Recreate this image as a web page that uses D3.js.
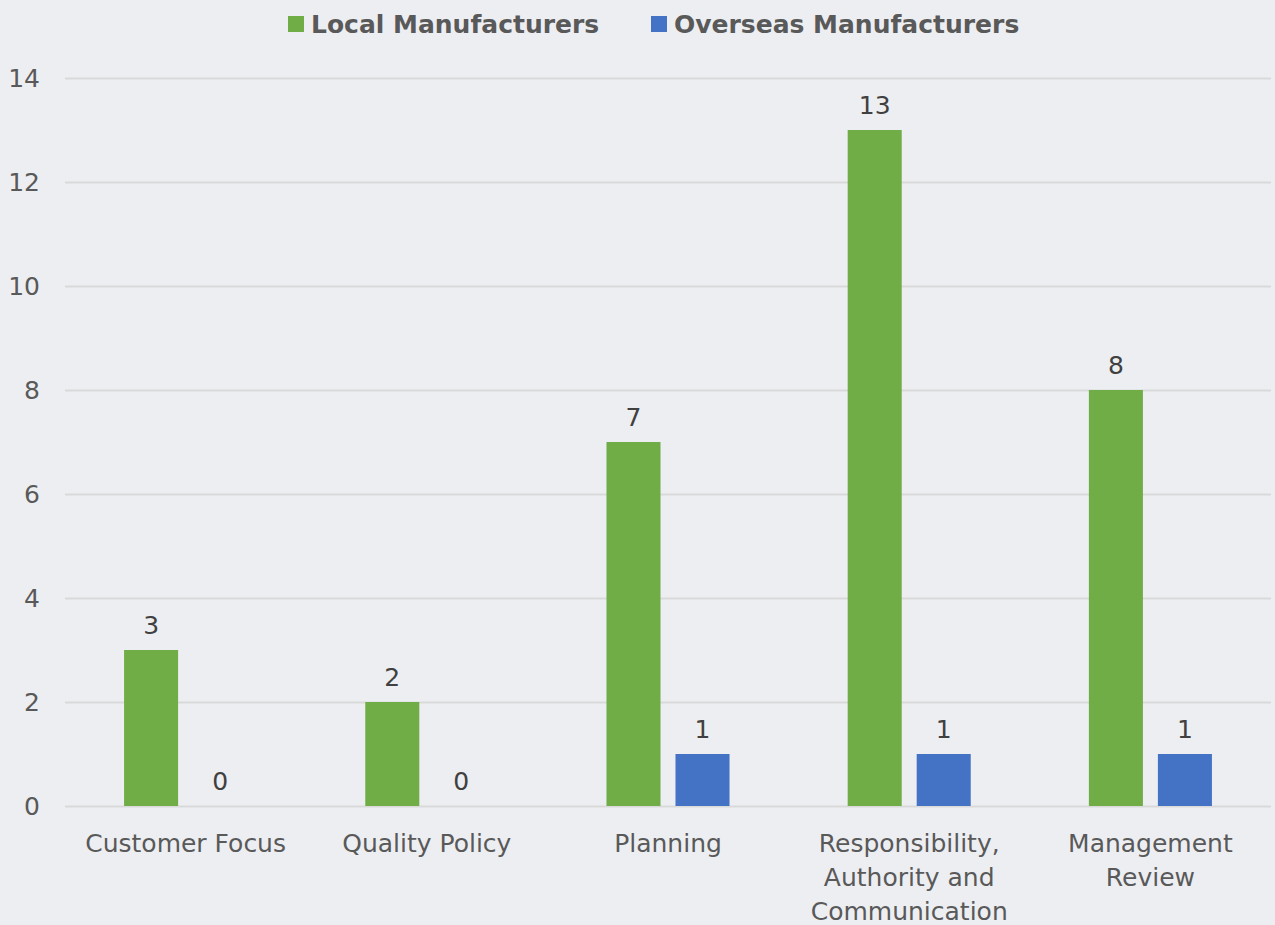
<!DOCTYPE html>
<html>
<head>
<meta charset="utf-8">
<script src="https://cdn.jsdelivr.net/npm/d3@7"></script>
<style>
  html, body { margin: 0; padding: 0; background: #edeef2; }
  svg { display: block; }
  text { font-family: Tahoma, "DejaVu Sans", Verdana, sans-serif; }
</style>
</head>
<body>
<svg id="chart" width="1275" height="925"></svg>
<script>
// Chart data
const categories = ["Customer Focus", "Quality Policy", "Planning",
  "Responsibility, Authority and Communication", "Management Review"];
const seriesNames = ["Local Manufacturers", "Overseas Manufacturers"];
const localValues = [3, 2, 7, 13, 8];
const overseasValues = [0, 0, 1, 1, 1];
const yTicks = [0, 2, 4, 6, 8, 10, 12, 14];

const colors = { "Local Manufacturers": "#70ad47", "Overseas Manufacturers": "#4472c4" };
const seriesValues = { "Local Manufacturers": localValues, "Overseas Manufacturers": overseasValues };

const W = 1275, H = 925;
const margin = { top: 78, right: 4, bottom: 119, left: 65 };
const svg = d3.select("#chart");
svg.append("rect").attr("width", W).attr("height", H).attr("fill", "#edeef2");

const x0 = d3.scaleBand().domain(categories)
  .range([margin.left, W - margin.right]).paddingInner(0).paddingOuter(0);
const x1 = d3.scaleBand().domain(seriesNames)
  .range([0, x0.bandwidth()]).paddingInner(0.217).paddingOuter(0.856);
const y = d3.scaleLinear().domain([0, 14]).range([H - margin.bottom, margin.top]);

// Gridlines
svg.append("g").selectAll("line").data(yTicks).join("line")
  .attr("x1", margin.left).attr("x2", W - margin.right)
  .attr("y1", d => Math.round(y(d)) + 0.5).attr("y2", d => Math.round(y(d)) + 0.5)
  .attr("stroke", "#d9d9d9").attr("stroke-width", 2);

// Y axis labels
const yAxis = d3.axisLeft(y).tickValues(yTicks).tickSize(0).tickPadding(0);
const gy = svg.append("g").attr("transform", "translate(40,0)").call(yAxis);
gy.select(".domain").remove();
gy.selectAll("text").attr("fill", "#595959").style("font-size", "25px")
  .style("font-family", 'Tahoma, "DejaVu Sans", Verdana, sans-serif');

// Bars
const groups = svg.append("g").selectAll("g").data(categories).join("g")
  .attr("transform", d => `translate(${x0(d)},0)`);

groups.selectAll("rect").data((c, i) => seriesNames.map(s => ({ s, v: seriesValues[s][i] })))
  .join("rect")
  .attr("x", d => x1(d.s)).attr("width", x1.bandwidth())
  .attr("y", d => y(d.v)).attr("height", d => y(0) - y(d.v))
  .attr("fill", d => colors[d.s]);

// Value labels
groups.selectAll("text.val").data((c, i) => seriesNames.map(s => ({ s, v: seriesValues[s][i] })))
  .join("text").attr("class", "val")
  .attr("x", d => x1(d.s) + x1.bandwidth() / 2)
  .attr("y", d => y(d.v) - 16)
  .attr("text-anchor", "middle")
  .attr("fill", "#404040").style("font-size", "25px")
  .text(d => d.v);

// Category labels (wrapped)
const xAxis = d3.axisBottom(x0).tickSize(0).tickPadding(0);
const gx = svg.append("g").attr("transform", `translate(0,${y(0)})`).call(xAxis);
gx.select(".domain").remove();
gx.selectAll("text").attr("fill", "#595959").style("font-size", "25px")
  .style("font-family", 'Tahoma, "DejaVu Sans", Verdana, sans-serif')
  .attr("y", 0).attr("dy", 0)
  .each(function (d) {
    const t = d3.select(this);
    const words = d.split(" ");
    const maxW = x0.bandwidth() - 30;
    t.text(null);
    let lines = [], cur = [];
    let probe = t.append("tspan");
    words.forEach(w => {
      cur.push(w);
      probe.text(cur.join(" "));
      if (probe.node().getComputedTextLength() > maxW && cur.length > 1) {
        cur.pop(); lines.push(cur.join(" ")); cur = [w];
      }
    });
    lines.push(cur.join(" "));
    probe.remove();
    lines.forEach((ln, i) => {
      t.append("tspan").attr("x", 0).attr("y", 46 + i * 34).text(ln);
    });
  });

// Legend
const legend = svg.append("g");
const legendItems = [{ name: seriesNames[0], x: 288 }, { name: seriesNames[1], x: 651 }];
legendItems.forEach(it => {
  legend.append("rect").attr("x", it.x).attr("y", 16).attr("width", 16).attr("height", 16)
    .attr("fill", colors[it.name]);
  legend.append("text").attr("x", it.x + 23).attr("y", 33)
    .attr("fill", "#595959").style("font-size", "25px").style("font-weight", "bold")
    .text(it.name);
});
</script>
</body>
</html>
